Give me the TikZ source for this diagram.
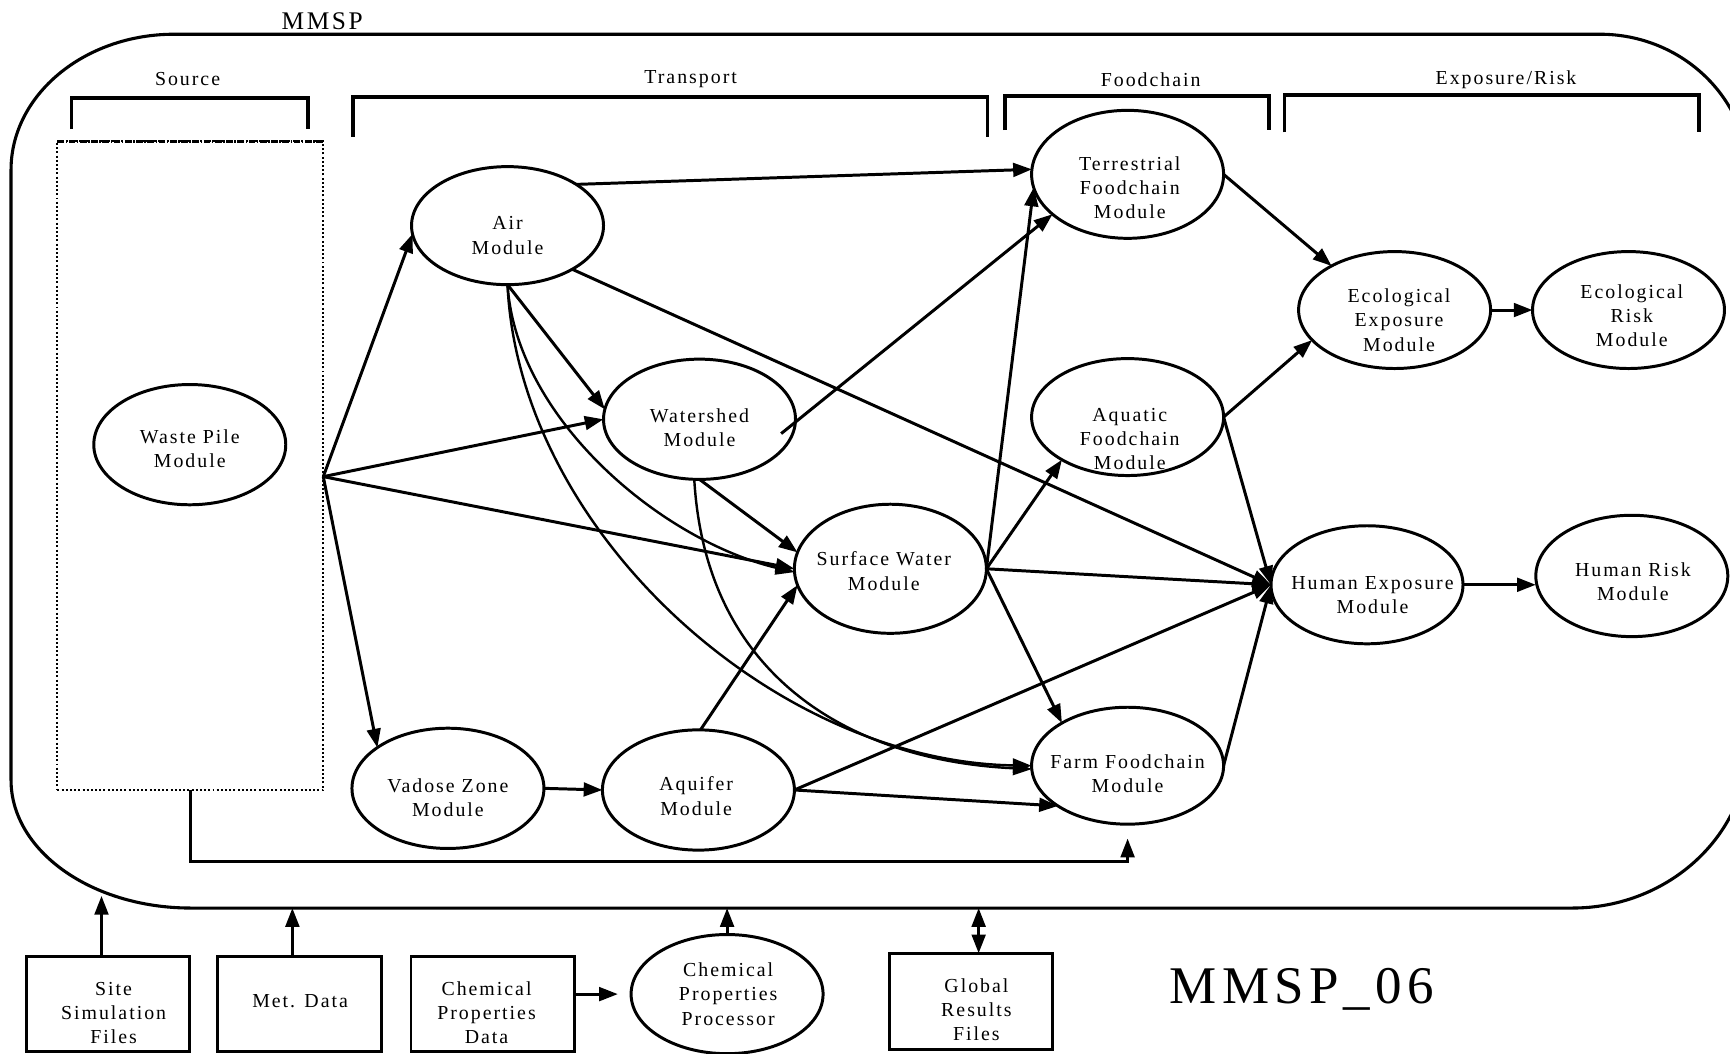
\documentclass[tikz,border=0pt]{standalone}
\usepackage{fontspec}
\setmainfont{Liberation Serif}[LetterSpace=10]
\usetikzlibrary{arrows.meta,shapes.geometric,calc}

\begin{document}
\begin{tikzpicture}[x=0.5pt,y=-0.5pt,
  every node/.style={inner sep=0pt, outer sep=0pt},
  txt/.style={font=\fontsize{9}{11}\selectfont, align=center},
  module/.style={ellipse, draw, line width=1.35pt, minimum width=87pt},
  databox/.style={rectangle, draw, line width=1.35pt, minimum width=74pt, minimum height=43pt},
  tip/.style={-{Triangle[length=8.5pt,width=6.2pt]}},
  link/.style={line width=1.35pt, tip},
  curvelink/.style={line width=1.1pt, tip},
  bothlink/.style={line width=1.35pt, {Triangle[length=8.5pt,width=6.2pt]}-{Triangle[length=8.5pt,width=6.2pt]}},
  bracket/.style={line width=1.6pt},
]
\useasboundingbox (0,0) rectangle (1568,955);
\clip (0,0) rectangle (1568,955);

% ---- system boundary ----
\draw[line width=1.4pt] (158,31) -- (1450,31)
  arc[start angle=90, end angle=0, x radius=67.5pt, y radius=65pt]
  -- (1585,673)
  arc[start angle=0, end angle=-90, x radius=80pt, y radius=75pt]
  -- (173,823)
  arc[start angle=270, end angle=180, x radius=81.5pt, y radius=58pt]
  -- (10,154)
  arc[start angle=180, end angle=90, x radius=74pt, y radius=61.5pt] -- cycle;
\coordinate (bbot) at (0,823);
\node[font=\fontsize{11.5}{13}\selectfont] (title) at (292,19) {MMSP};

% ---- stage brackets ----
\node[txt] (lsource) at (170,72) {Source};
\node[txt] (ltransport) at (626,72) {Transport};
\node[txt] (lfood) at (1043,72) {Foodchain};
\node[txt] (lexp) at (1365,72) {Exposure/Risk};
\draw[bracket] (65,117) -- (65,89) -- (279,89) -- (279,117);
\draw[bracket] (320,124) -- (320,88) -- (895,88) -- (895,124);
\draw[bracket] (911,118) -- (911,87) -- (1150,87) -- (1150,118);
\draw[bracket] (1164,120) -- (1164,86) -- (1540,86) -- (1540,120);

% ---- source area ----
\node[draw, densely dotted, line width=0.9pt, minimum width=120.5pt, minimum height=294pt]
  (srcbox) at (172.5,422) {};
\draw[line width=1.5pt, dash pattern=on 3pt off 0.7pt on 0.7pt off 0.7pt] (srcbox.north west) -- (srcbox.north east);
\coordinate (wpout) at (293,432);

% ---- modules ----
\node[module, minimum height=54.5pt] (waste) at (172,403) {};
\node[module, minimum height=53.5pt] (air) at (460,204.5) {};
\node[module, minimum height=54.5pt] (ws) at (634,380) {};
\node[module, minimum height=58.5pt] (sw) at (807,515.5) {};
\node[module, minimum height=54.5pt] (vz) at (406,714.5) {};
\node[module, minimum height=54.5pt] (aqf) at (633,716) {};
\node[module, minimum height=58pt] (terr) at (1022,158) {};
\node[module, minimum height=53pt] (aq) at (1022,378) {};
\node[module, minimum height=53pt] (farm) at (1022,694) {};
\node[module, minimum height=53pt] (eexp) at (1264,281) {};
\node[module, minimum height=53pt] (erisk) at (1476,281) {};
\node[module, minimum height=53.5pt] (hexp) at (1239,530) {};
\node[module, minimum height=55pt] (hrisk) at (1479,522) {};
\node[module, minimum height=54pt] (cpp) at (659,901) {};

\node[txt] (waste-t) at (172,407) {Waste Pile\\Module};
\node[txt] (air-t) at (460,213.5) {Air\\Module};
\node[txt] (ws-t) at (634,387.5) {Watershed\\Module};
\node[txt] (sw-t) at (801,517.5) {Surface Water\\Module};
\node[txt] (vz-t) at (406,723) {Vadose Zone\\Module};
\node[txt] (aqf-t) at (631,721.5) {Aquifer\\Module};
\node[txt] (terr-t) at (1024,170) {Terrestrial\\Foodchain\\Module};
\node[txt] (aq-t) at (1024,398) {Aquatic\\Foodchain\\Module};
\node[txt] (farm-t) at (1022,701.5) {Farm Foodchain\\Module};
\node[txt] (eexp-t) at (1268,290) {Ecological\\Exposure\\Module};
\node[txt] (erisk-t) at (1479,286) {Ecological\\Risk\\Module};
\node[txt] (hexp-t) at (1244,539.5) {Human Exposure\\Module};
\node[txt] (hrisk-t) at (1480,527.5) {Human Risk\\Module};
\node[txt] (cpp-t) at (660,901) {Chemical\\Properties\\Processor};

% ---- input / output files ----
\node[databox] (site) at (98,910) {};
\node[databox] (met) at (271.5,910) {};
\node[databox] (cpd) at (446.5,910) {};
\node[databox, minimum height=43.5pt] (grf) at (880,907.5) {};
\node[txt] (site-t) at (103,918) {Site\\Simulation\\Files};
\node[txt] (met-t) at (272,907) {Met. Data};
\node[txt] (cpd-t) at (441,918) {Chemical\\Properties\\Data};
\node[txt] (grf-t) at (885,915) {Global\\Results\\Files};
\node[font=\fontsize{24}{28}\selectfont] (tag) at (1180,897) {MMSP\_06};

% ---- connectors from the source ----
\draw[link] (wpout) -- (air.185);
\draw[link] (wpout) -- (ws.west);
\draw[link] (wpout) -- (sw.west);
\draw[link] (wpout) -- (vz.150);

% ---- transport connectors ----
\draw[link] (air.31) -- (terr.177);
\draw[link] (air.-34) -- (hexp.west);
\draw[link] (air.south) -- (ws.174);
\draw[curvelink] (air.south) .. controls (468,380) and (600,490) .. (sw.182);
\draw[curvelink] (air.south) .. controls (470,480) and (700,690) .. (farm.west);
\draw[link] (ws.south) -- (sw.170);
\draw[curvelink] (ws.-95) .. controls (640,620) and (780,690) .. (farm.182);
\draw[link] ($(ws)+(74,13)$) -- (terr.208);
\draw[link] (sw.east) -- (terr.188);
\draw[link] (sw.east) -- (aq.213);
\draw[link] (sw.east) -- (hexp.west);
\draw[link] (sw.east) -- (farm.147);
\draw[link] (vz.east) -- (aqf.west);
\draw[link] (aqf.88) -- (sw.190);
\draw[link] (aqf.east) -- (hexp.west);
\draw[link] (aqf.east) -- (farm.210);

% ---- foodchain and exposure connectors ----
\draw[link] (terr.east) -- (eexp.145);
\draw[link] (aq.east) -- (eexp.200);
\draw[link] (aq.east) -- (hexp.west);
\draw[link] (farm.east) -- (hexp.west);
\draw[link] (eexp.east) -- (eexp.east -| erisk.west);
\draw[link] (hexp.east) -- (hexp.east -| hrisk.west);

% ---- waste pile to farm foodchain ----
\coordinate (farmtip) at ($(farm.south)+(0,13)$);
\draw[link] (srcbox.south) -- ++(0,65) -| (farmtip);

% ---- file connections ----
\coordinate (sitetip) at (92,812);
\draw[link] ($(site.north)+(-6,0)$) -- (sitetip);
\draw[link] ($(met.north)+(-6.5,0)$) coordinate (metfoot) -- (metfoot |- bbot);
\draw[link, shorten >=6pt] (cpp.west -| cpd.east) -- (cpp.west);
\draw[link] (cpp.north) -- (cpp.north |- bbot);
\draw[bothlink] ($(grf.north)+(7,0)$) coordinate (gfoot) -- (gfoot |- bbot);
\end{tikzpicture}
\end{document}
